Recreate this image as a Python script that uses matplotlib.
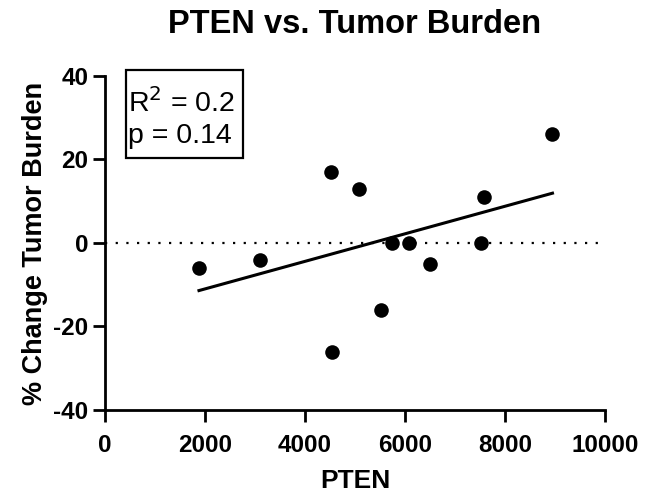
import numpy as np
import matplotlib
matplotlib.use("Agg")
import matplotlib.pyplot as plt
from matplotlib.patches import Rectangle

plt.rcParams["font.family"] = ["Liberation Sans", "DejaVu Sans"]
plt.rcParams["axes.unicode_minus"] = False

# Data
pten = [1880, 3100, 4520, 4540, 5080, 5520, 5740, 6090, 6500, 7530, 7590, 8950]
tumor_change = [-6, -4, 17, -26, 13, -16, 0, 0, -5, 0, 11, 26]
x_ticks = [0, 2000, 4000, 6000, 8000, 10000]
y_ticks = [-40, -20, 0, 20, 40]
stats_lines = ["R$^2$ = 0.2", "p = 0.14"]

x = np.array(pten)
y = np.array(tumor_change)
slope, intercept = np.polyfit(x, y, 1)
x_fit = np.array([x.min(), x.max()])

W, H = 646, 499
fig = plt.figure(figsize=(W / 100, H / 100), dpi=100)
ax = fig.add_axes([0.1625, 0.1784, 0.774, 0.6693])

ax.axhline(0, color="black", linestyle=(0, (1, 3.8)), linewidth=1.6, zorder=1)
ax.plot(x_fit, slope * x_fit + intercept, color="black", linewidth=2.2, zorder=2)
ax.scatter(x, y, s=110, color="black", zorder=3, linewidths=0)

ax.set_xlim(0, 10000)
ax.set_ylim(-40, 40)
ax.set_xticks(x_ticks)
ax.set_yticks(y_ticks)
ax.tick_params(axis="both", direction="out", length=8.5, width=2, labelsize=17.5)
ax.tick_params(axis="x", pad=8.5)
ax.tick_params(axis="y", pad=3.5)
for lab in ax.get_xticklabels() + ax.get_yticklabels():
    lab.set_fontweight("bold")

ax.spines["top"].set_visible(False)
ax.spines["right"].set_visible(False)
ax.spines["left"].set_linewidth(2)
ax.spines["bottom"].set_linewidth(2)

ax.set_xlabel("PTEN", fontsize=19, fontweight="bold", labelpad=9)
ax.set_ylabel("% Change Tumor Burden", fontsize=19.5, fontweight="bold", labelpad=4)
ax.set_title("PTEN vs. Tumor Burden", fontsize=23.5, fontweight="bold", pad=31)

# R^2 / p annotation box
fig.patches.append(Rectangle((126 / W, 1 - 158 / H), 117 / W, 88 / H,
                             transform=fig.transFigure, fill=True, fc="white",
                             ec="black", lw=1.6, zorder=5))
fig.text(128 / W, 1 - 112 / H, stats_lines[0], fontsize=20.5, va="baseline", ha="left", zorder=6)
fig.text(128 / W, 1 - 143 / H, stats_lines[1], fontsize=20.5, va="baseline", ha="left", zorder=6)

fig.savefig("out.png", dpi=100)
